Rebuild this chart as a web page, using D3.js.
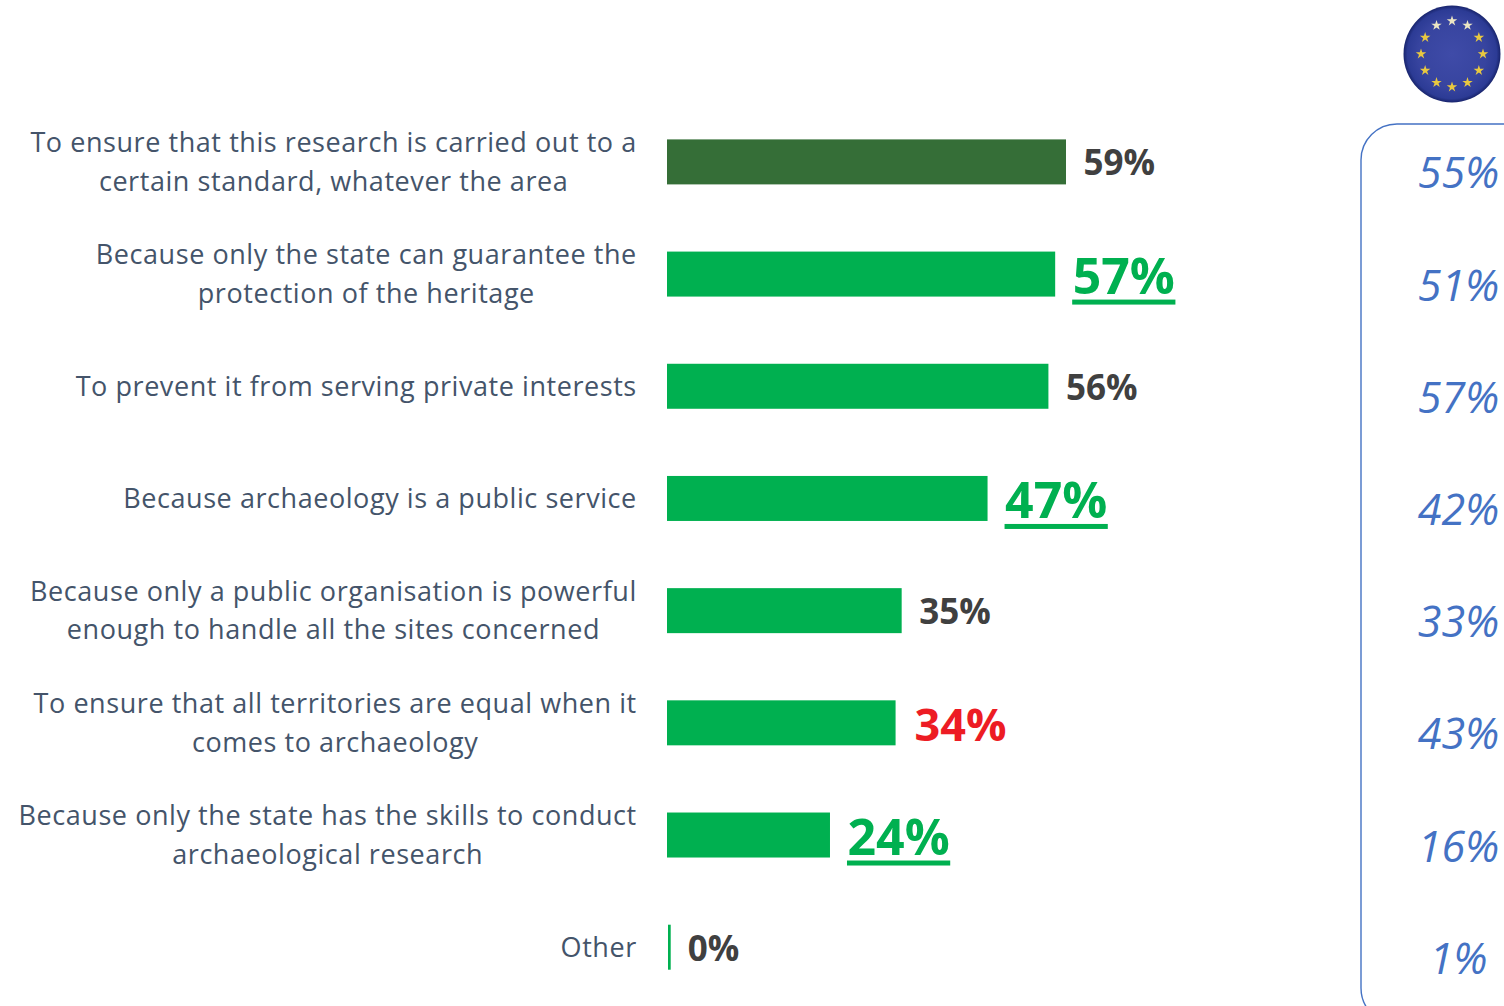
<!DOCTYPE html>
<html><head><meta charset="utf-8">
<script src="https://cdnjs.cloudflare.com/ajax/libs/d3/7.8.5/d3.min.js"></script>
<style>html,body{margin:0;padding:0;background:#fff;overflow:hidden}svg{display:block}</style>
</head><body><svg id="c" width="1504" height="1006"></svg>
<script>
const labels = [
 ["To ensure that this research is carried out to a","certain standard, whatever the area"],
 ["Because only the state can guarantee the","protection of the heritage"],
 ["To prevent it from serving private interests"],
 ["Because archaeology is a public service"],
 ["Because only a public organisation is powerful","enough to handle all the sites concerned"],
 ["To ensure that all territories are equal when it","comes to archaeology"],
 ["Because only the state has the skills to conduct","archaeological research"],
 ["Other"]
];
const values = [59,57.4,56.4,47.4,34.7,33.8,24.1,0.4];
const euValues = [55,51,57,42,33,43,16,1];
const barColors = ["#356e37","#00b050","#00b050","#00b050","#00b050","#00b050","#00b050","#00b050"];
const valueStyles = ["plain","up","plain","up","plain","down","up","plain"];

const svg = d3.select("#c");
const font = "'Open Sans', sans-serif";
const x = d3.scaleLinear().domain([0,59]).range([667,1066]);
const y = d3.scaleBand().domain(d3.range(8)).range([105.8,1003.3]).paddingInner(0.6).paddingOuter(0.3);
const cy = i => y(i)+y.bandwidth()/2;
const bh = 45;
const pct = d3.format(".0f");

// flag
const defs = svg.append("defs");
const g = defs.append("radialGradient").attr("id","flag");
[[0,"#3f4ba8"],[0.7,"#37449f"],[0.92,"#2c3b95"],[1,"#18246c"]].forEach(s=>g.append("stop").attr("offset",s[0]).attr("stop-color",s[1]));
defs.append("filter").attr("id","soft").append("feGaussianBlur").attr("stdDeviation",0.7);
svg.append("circle").attr("cx",1452).attr("cy",54).attr("r",48.5).attr("fill","url(#flag)");
const star = d3.symbol().type(d3.symbolStar).size(34);
d3.range(12).forEach(k=>{
  const a = k*Math.PI/6;
  svg.append("path").attr("d",star()).attr("filter","url(#soft)")
    .attr("transform",`translate(${1452+31*Math.sin(a)},${54-33*Math.cos(a)})`)
    .attr("fill", (k===0||k===1||k===11)?"#ece6c4":"#e8c840");
});

// rounded panel
svg.append("rect").attr("x",1361).attr("y",124).attr("width",240).attr("height",900).attr("rx",36).attr("ry",36)
  .attr("fill","none").attr("stroke","#4472c4").attr("stroke-width",1.4);

// bars
svg.selectAll("rect.bar").data(values).join("rect").attr("class","bar")
  .attr("x",(d,i)=>i===7?668:x(0))
  .attr("y",(d,i)=>cy(i)-bh/2).attr("height",bh)
  .attr("width",d=>x(d)-x(0))
  .attr("fill",(d,i)=>barColors[i]);

// category labels
labels.forEach((lines,i)=>{
  const base = cy(i) + (lines.length===2 ? -10 : 9.5);
  const nodes = lines.map((s,j)=>svg.append("text").attr("font-family",font).attr("font-size",27)
     .attr("letter-spacing",0.56).attr("fill","#44546a").attr("y",base+j*38.8).text(s));
  const w0 = nodes[0].node().getComputedTextLength();
  nodes.forEach(n=>{
    const w = n.node().getComputedTextLength();
    n.attr("x",636.8-w0/2-w/2);
  });
});

// value labels
values.forEach((d,i)=>{
  const st = valueStyles[i];
  const size = st==="up"?50:st==="down"?45:35;
  const col = st==="up"?"#00b050":st==="down"?"#ed1c24":"#404040";
  const xx = x(d)+(i===7?18:st==="down"?19:17.5);
  const t = svg.append("text").attr("font-family",font).attr("font-weight",700).attr("font-size",size)
    .attr("x",xx).attr("y",cy(i)+(st==="plain"?13.5:st==="down"?18:19.5)).attr("fill",col).text(pct(d)+"%");
  if(st==="up"){
    const w=t.node().getComputedTextLength();
    svg.append("rect").attr("x",xx-.5).attr("y",cy(i)+25.5).attr("width",w+1).attr("height",5).attr("fill",col);
  }
});

// EU values
euValues.forEach((d,i)=>{
  svg.append("text").attr("font-family",font).attr("font-style","italic").attr("font-size",43)
    .attr("x",1458.5).attr("text-anchor","middle").attr("y",cy(i)+26.5).attr("fill","#4472c4").text(d+"%");
});
</script></body></html>
